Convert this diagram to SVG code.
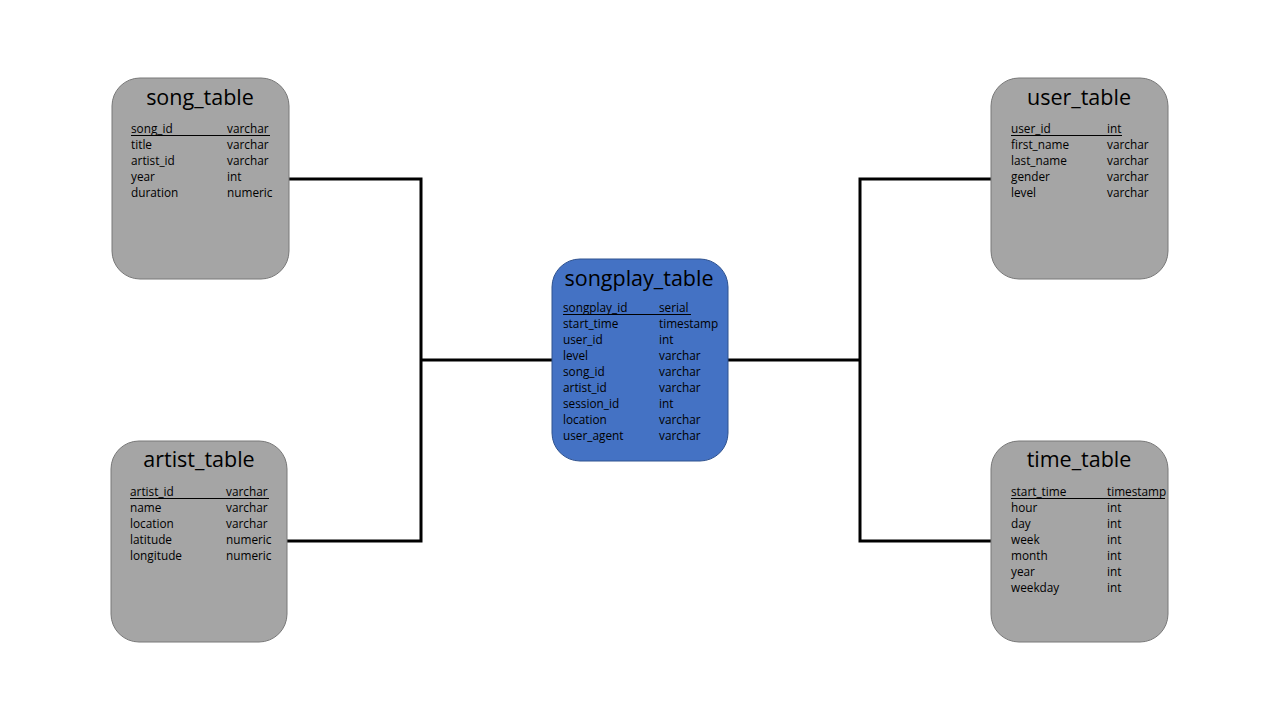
<svg xmlns="http://www.w3.org/2000/svg" width="1280" height="720" viewBox="0 0 1280 720">
<style>
.box{fill:#A5A5A5;stroke:#787878;stroke-width:1}
.main{fill:#4472C4;stroke:#2F528F;stroke-width:1}
.title{font-family:"Open Sans","Liberation Sans",sans-serif;font-size:21.5px;fill:#000;text-anchor:middle}
.row{font-family:"Open Sans","Liberation Sans",sans-serif;font-size:11.8px;fill:#000}
.ul{stroke:#000;stroke-width:1}
.conn{fill:none;stroke:#000;stroke-width:3}
</style>
<rect width="1280" height="720" fill="#fff"/>
<g id="connectors">
<polyline class="conn" points="289,179 421,179 421,541 287,541"/>
<line class="conn" x1="421" y1="360" x2="552" y2="360"/>
<polyline class="conn" points="991,179 860,179 860,541 991,541"/>
<line class="conn" x1="728" y1="360" x2="860" y2="360"/>
</g>
<g id="song_table">
<rect class="box" x="112" y="78" width="177" height="201" rx="28"/>
<text class="title" x="200" y="105">song_table</text>
<g class="row">
<text x="131" y="133">song_id</text><text x="227" y="133">varchar</text>
<text x="131" y="149">title</text><text x="227" y="149">varchar</text>
<text x="131" y="165">artist_id</text><text x="227" y="165">varchar</text>
<text x="131" y="181">year</text><text x="227" y="181">int</text>
<text x="131" y="197">duration</text><text x="227" y="197">numeric</text>
</g>
<line class="ul" x1="131" y1="135.5" x2="270" y2="135.5"/>
</g>
<g id="artist_table">
<rect class="box" x="111" y="441" width="176" height="201" rx="28"/>
<text class="title" x="199" y="467">artist_table</text>
<g class="row">
<text x="130" y="496">artist_id</text><text x="226" y="496">varchar</text>
<text x="130" y="512">name</text><text x="226" y="512">varchar</text>
<text x="130" y="528">location</text><text x="226" y="528">varchar</text>
<text x="130" y="544">latitude</text><text x="226" y="544">numeric</text>
<text x="130" y="560">longitude</text><text x="226" y="560">numeric</text>
</g>
<line class="ul" x1="130" y1="498.5" x2="269" y2="498.5"/>
</g>
<g id="user_table">
<rect class="box" x="991" y="78" width="177" height="201" rx="28"/>
<text class="title" x="1079" y="105">user_table</text>
<g class="row">
<text x="1011" y="133">user_id</text><text x="1107" y="133">int</text>
<text x="1011" y="149">first_name</text><text x="1107" y="149">varchar</text>
<text x="1011" y="165">last_name</text><text x="1107" y="165">varchar</text>
<text x="1011" y="181">gender</text><text x="1107" y="181">varchar</text>
<text x="1011" y="197">level</text><text x="1107" y="197">varchar</text>
</g>
<line class="ul" x1="1011" y1="135.5" x2="1122" y2="135.5"/>
</g>
<g id="time_table">
<rect class="box" x="991" y="441" width="177" height="201" rx="28"/>
<text class="title" x="1079" y="467">time_table</text>
<g class="row">
<text x="1011" y="496">start_time</text><text x="1107" y="496">timestamp</text>
<text x="1011" y="512">hour</text><text x="1107" y="512">int</text>
<text x="1011" y="528">day</text><text x="1107" y="528">int</text>
<text x="1011" y="544">week</text><text x="1107" y="544">int</text>
<text x="1011" y="560">month</text><text x="1107" y="560">int</text>
<text x="1011" y="576">year</text><text x="1107" y="576">int</text>
<text x="1011" y="592">weekday</text><text x="1107" y="592">int</text>
</g>
<line class="ul" x1="1011" y1="498.5" x2="1165" y2="498.5"/>
</g>
<g id="songplay_table">
<rect class="main" x="552" y="259" width="176" height="202" rx="28"/>
<text class="title" x="639" y="286">songplay_table</text>
<g class="row">
<text x="563" y="312">songplay_id</text><text x="659" y="312">serial</text>
<text x="563" y="328">start_time</text><text x="659" y="328">timestamp</text>
<text x="563" y="344">user_id</text><text x="659" y="344">int</text>
<text x="563" y="360">level</text><text x="659" y="360">varchar</text>
<text x="563" y="376">song_id</text><text x="659" y="376">varchar</text>
<text x="563" y="392">artist_id</text><text x="659" y="392">varchar</text>
<text x="563" y="408">session_id</text><text x="659" y="408">int</text>
<text x="563" y="424">location</text><text x="659" y="424">varchar</text>
<text x="563" y="440">user_agent</text><text x="659" y="440">varchar</text>
</g>
<line class="ul" x1="563" y1="314.5" x2="691" y2="314.5"/>
</g>
</svg>
